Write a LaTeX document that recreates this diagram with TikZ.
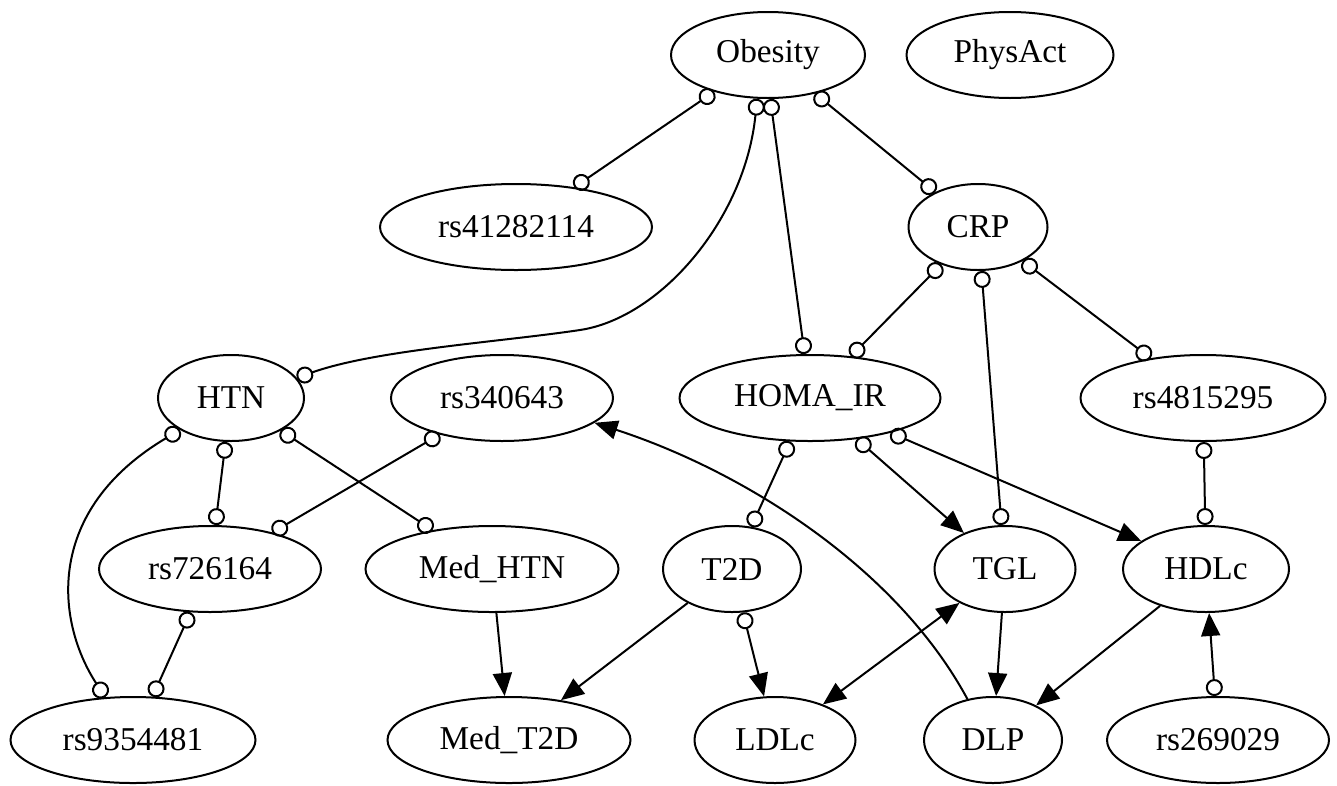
\documentclass[tikz,border=0pt]{standalone}
\usepackage{fontspec}
\setmainfont{Liberation Serif}
\usetikzlibrary{arrows.meta,shapes.geometric}
\tikzset{
  odot/.tip={Circle[open,length=17pt,width=17pt]},
  tri/.tip={Triangle[length=23pt,width=19pt]},
}
\begin{document}
\begin{tikzpicture}[x=1pt,y=-1pt,line width=2pt,
  nd/.style={ellipse,draw,line width=2pt,minimum height=86pt,inner sep=0pt,
             font=\fontsize{33.3}{40}\selectfont}]
\fill[white] (0,0) rectangle (1337,785);
\useasboundingbox (0,0) rectangle (1337,785);
% row 1
\node[nd,minimum width=194pt] (obesity) at (768,55) {Obesity};
\node[nd,minimum width=207pt] (physact) at (1010,55) {PhysAct};
% row 2
\node[nd,minimum width=272pt] (rsa) at (516,227) {rs41282114};
\node[nd,minimum width=139pt] (crp) at (978,227) {CRP};
% row 3
\node[nd,minimum width=146pt] (htn) at (231,398) {HTN};
\node[nd,minimum width=222pt] (rsb) at (502,398) {rs340643};
\node[nd,minimum width=261pt] (homa) at (810,398) {HOMA\_IR};
\node[nd,minimum width=245pt] (rsc) at (1203,398) {rs4815295};
% row 4
\node[nd,minimum width=222pt] (rsd) at (210,569) {rs726164};
\node[nd,minimum width=253pt] (medhtn) at (492,569) {Med\_HTN};
\node[nd,minimum width=138pt] (ttd) at (732,569) {T2D};
\node[nd,minimum width=141pt] (tgl) at (1005,569) {TGL};
\node[nd,minimum width=166pt] (hdlc) at (1206,569) {HDLc};
% row 5
\node[nd,minimum width=245pt] (rse) at (133,740) {rs9354481};
\node[nd,minimum width=243pt] (medttd) at (509,740) {Med\_T2D};
\node[nd,minimum width=161pt] (ldlc) at (775,740) {LDLc};
\node[nd,minimum width=138pt] (dlp) at (993,740) {DLP};
\node[nd,minimum width=222pt] (rsf) at (1218,740) {rs269029};
% edges
\draw[odot-odot] (obesity) -- (rsa);
\draw[odot-odot] (obesity) -- (crp);
\draw[odot-odot] (obesity.-87) -- (homa.97);
\draw[odot-odot] (obesity.-104) .. controls (745,220) and (660,318) .. (580,330)
                 .. controls (500,342) and (375,350) .. (htn.17);
\draw[odot-odot] (crp) -- (homa);
\draw[odot-odot] (crp) -- (tgl);
\draw[odot-odot] (crp) -- (rsc);
\draw[odot-odot] (htn) -- (rsd);
\draw[odot-odot] (htn) -- (medhtn);
\draw[odot-odot] (htn.212) .. controls (45,510) and (55,620) .. (rse.123);
\draw[odot-odot] (rsb) -- (rsd);
\draw[odot-odot] (rsd) -- (rse);
\draw[-tri] (medhtn) -- (medttd);
\draw[-tri] (ttd) -- (medttd);
\draw[odot-tri] (ttd) -- (ldlc);
\draw[odot-odot] (homa) -- (ttd);
\draw[odot-tri] (homa) -- (tgl);
\draw[odot-tri] (homa) -- (hdlc);
\draw[odot-odot] (rsc) -- (hdlc);
\draw[tri-tri] (tgl) -- (ldlc);
\draw[-tri] (tgl) -- (dlp);
\draw[-tri] (hdlc) -- (dlp);
\draw[odot-tri] (rsf) -- (hdlc);
\draw[-tri] (dlp.122) .. controls (895,565) and (740,470) .. (rsb.-15);
\end{tikzpicture}
\end{document}
